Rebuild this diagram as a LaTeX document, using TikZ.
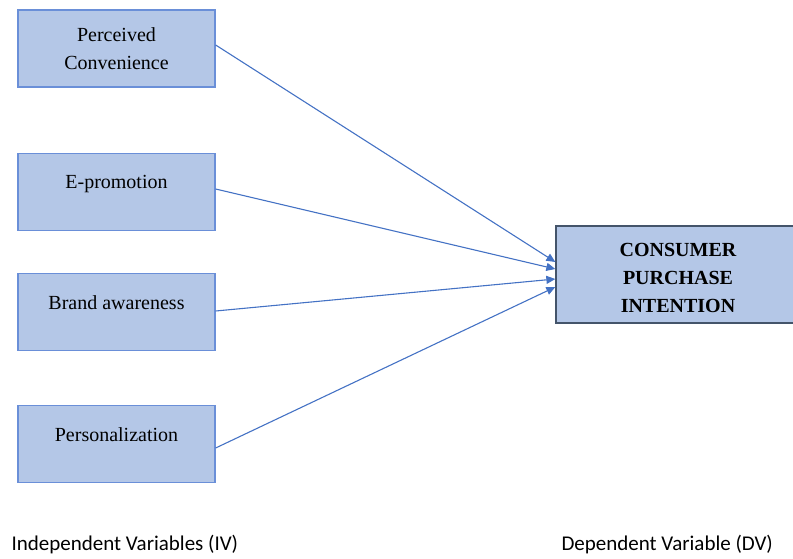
\documentclass[tikz,border=0pt]{standalone}
\usepackage{fontspec}
\setmainfont{Liberation Serif}
\newfontfamily\calibrifont{Carlito}
\usetikzlibrary{arrows.meta}

\definecolor{boxfill}{HTML}{B4C7E7}
\definecolor{ivline}{HTML}{6A8FD8}
\definecolor{dvline}{HTML}{44546A}
\definecolor{arrowblue}{HTML}{4472C4}

\tikzset{
  ivbox/.style={draw=ivline, line width=1.3pt, fill=boxfill,
    minimum width=197pt, minimum height=77pt, inner sep=0pt},
  dvbox/.style={draw=dvline, line width=1.3pt, fill=boxfill,
    minimum width=244pt, minimum height=97pt, inner sep=0pt},
  ivtext/.style={font=\fontsize{20}{28}\selectfont, align=center},
  dvtext/.style={font=\fontsize{20}{28}\selectfont\bfseries, align=center},
  note/.style={font=\calibrifont\fontsize{21}{25}\selectfont, anchor=west},
  link/.style={draw=arrowblue, line width=1.1pt,
    -{Triangle[width=8pt,length=9pt]}}
}

\begin{document}
\begin{tikzpicture}[x=1pt, y=-1pt]
    \useasboundingbox (0,0) rectangle (793,559);

    % Variables independientes
    \node[ivbox] (pc)  at (116.5,48.5) {};
    \node[ivbox] (ep)  at (116.5,192)  {};
    \node[ivbox] (ba)  at (116.5,312)  {};
    \node[ivbox] (per) at (116.5,444)  {};

    \node[ivtext] (pctext)  at (pc.center) {Perceived\\Convenience};
    \node[ivtext] (eptext)  at ([yshift=8pt]ep.center) {E-promotion};
    \node[ivtext] (batext)  at ([yshift=9pt]ba.center) {Brand awareness};
    \node[ivtext] (pertext) at ([yshift=9pt]per.center) {Personalization};

    % Variable dependiente
    \node[dvbox] (cpi) at (678,274.5) {};
    \node[dvtext] (cpitext) at ([yshift=-3pt]cpi.center) {CONSUMER\\PURCHASE\\INTENTION};

    % Flechas
    \draw[link] ([yshift=3.5pt]pc.east) -- ([yshift=12.5pt]cpi.west);
    \draw[link] ([yshift=3pt]ep.east)   -- ([yshift=5.5pt]cpi.west);
    \draw[link] ([yshift=1pt]ba.east)   -- ([yshift=-4.5pt]cpi.west);
    \draw[link] ([yshift=-4pt]per.east) -- ([yshift=-12.5pt]cpi.west);

    % Etiquetas
    \node[note] (iv) at (8,545)   {Independent Variables (IV)};
    \node[note] (dv) at (558,545) {Dependent Variable (DV)};
\end{tikzpicture}
\end{document}
